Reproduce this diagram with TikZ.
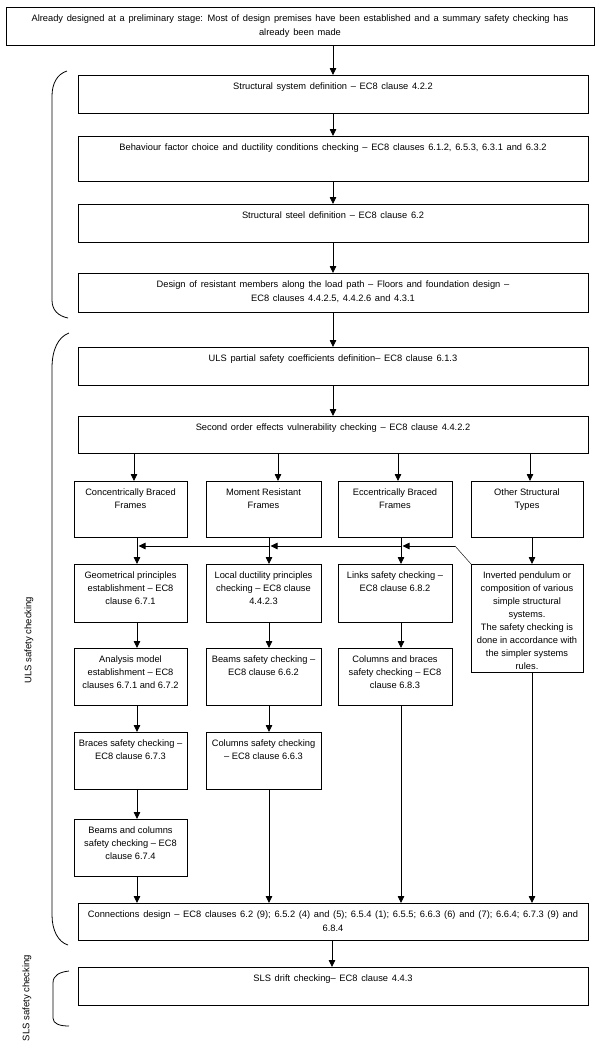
\documentclass[tikz,border=0pt]{standalone}
\usepackage{fontspec}
\setmainfont{Liberation Sans}
\usetikzlibrary{arrows.meta}
\newcommand{\widesp}{\spaceskip=3.7pt plus 1pt minus 0.5pt\relax}
\tikzset{
  box/.style={draw, line width=0.8pt, inner sep=0pt, outer sep=0pt},
  txt/.style={anchor=north, yshift=-5.5pt, inner sep=2pt, align=center, font=\fontsize{9.3}{13}\selectfont},
  wtxt/.style={anchor=north, yshift=-5.5pt, inner sep=2pt, align=center, font=\fontsize{9.3}{13.6}\selectfont, execute at begin node=\widesp},
  arr/.style={line width=0.8pt, -{Triangle[length=7pt,width=6.5pt]}},
  thinln/.style={line width=0.45pt},
  brc/.style={line width=0.8pt},
  side/.style={rotate=90, inner sep=0pt, font=\fontsize{9.5}{11}\selectfont}
}
\newcommand{\bx}[7][txt]{%
  \node[box, minimum width={#5-#3}, minimum height={#6-#4}] (#2) at ({(#3+#5)/2},{(#4+#6)/2}) {};
  \node[#1] at (#2.north) {#7};
}
\begin{document}
\begin{tikzpicture}[x=1pt,y=-1pt]
\useasboundingbox (0,0) rectangle (605,1045);

% main chain
\bx[wtxt]{top}{6}{7}{594}{45}{Already designed at a preliminary stage: Most of design premises have been established and a summary safety checking has\\already been made}
\bx[wtxt]{b1}{78}{75}{588}{113}{Structural system definition – EC8 clause 4.2.2}
\bx[wtxt]{b2}{78}{136}{588}{181}{Behaviour factor choice and ductility conditions checking – EC8 clauses 6.1.2, 6.5.3, 6.3.1 and 6.3.2}
\bx[wtxt]{b3}{78}{204}{588}{242}{Structural steel definition – EC8 clause 6.2}
\bx[wtxt]{b4}{78}{273}{588}{312}{Design of resistant members along the load path – Floors and foundation design –\\EC8 clauses 4.4.2.5, 4.4.2.6 and 4.3.1}
\bx[wtxt]{b5}{78}{347}{588}{385}{ULS partial safety coefficients definition– EC8 clause 6.1.3}
\bx[wtxt]{b6}{78}{416}{588}{453}{Second order effects vulnerability checking – EC8 clause 4.4.2.2}

% column headers
\bx{c1}{74}{481}{187}{537}{Concentrically Braced\\Frames}
\bx{c2}{206}{481}{321}{537}{Moment Resistant\\Frames}
\bx{c3}{338}{481}{452}{537}{Eccentrically Braced\\Frames}
\bx{c4}{471}{481}{583}{537}{Other Structural\\Types}

% row 2
\bx{r2a}{74}{564}{187}{622}{Geometrical principles\\establishment – EC8\\clause 6.7.1}
\bx{r2b}{206}{564}{321}{622}{Local ductility principles\\checking – EC8 clause\\4.4.2.3}
\bx{r2c}{338}{564}{452}{622}{Links safety checking –\\EC8 clause 6.8.2}
\bx{r2d}{471}{564}{583}{672}{Inverted pendulum or\\composition of various\\simple structural\\systems.\\The safety checking is\\done in accordance with\\the simpler systems\\rules.}

% row 3
\bx{r3a}{74}{648}{187}{705}{Analysis model\\establishment – EC8\\clauses 6.7.1 and 6.7.2}
\bx{r3b}{206}{648}{321}{705}{Beams safety checking –\\EC8 clause 6.6.2}
\bx{r3c}{338}{648}{452}{705}{Columns and braces\\safety checking – EC8\\clause 6.8.3}

% row 4
\bx{r4a}{74}{732}{187}{789}{Braces safety checking –\\EC8 clause 6.7.3}
\bx{r4b}{206}{732}{321}{789}{Columns safety checking\\– EC8 clause 6.6.3}

% row 5
\bx{r5a}{74}{819}{187}{876}{Beams and columns\\safety checking – EC8\\clause 6.7.4}

% bottom
\bx[wtxt]{conn}{78}{903}{588}{940}{Connections design – EC8 clauses 6.2 (9); 6.5.2 (4) and (5); 6.5.4 (1); 6.5.5; 6.6.3 (6) and (7); 6.6.4; 6.7.3 (9) and\\6.8.4}
\bx[wtxt]{sls}{78}{967}{588}{1005}{SLS drift checking– EC8 clause 4.4.3}

% column x coordinates
\coordinate (xm) at (333,0);
\coordinate (xs) at (332,0);
\coordinate (t1) at (134,0);
\coordinate (t2) at (278,0);
\coordinate (t3) at (398,0);
\coordinate (t4) at (530,0);
\coordinate (xA) at (137,0);
\coordinate (xB) at (269,0);
\coordinate (xC) at (401,0);
\coordinate (xD) at (532,0);

% main chain arrows
\draw[arr] (top.south -| xm) -- (b1.north -| xm);
\draw[arr] (b1.south -| xm) -- (b2.north -| xm);
\draw[arr] (b2.south -| xm) -- (b3.north -| xm);
\draw[arr] (b3.south -| xm) -- (b4.north -| xm);
\draw[arr] (b4.south -| xm) -- (b5.north -| xm);
\draw[arr] (b5.south -| xm) -- (b6.north -| xm);

% to columns
\draw[arr] (b6.south -| t1) -- (c1.north -| t1);
\draw[arr] (b6.south -| t2) -- (c2.north -| t2);
\draw[arr] (b6.south -| t3) -- (c3.north -| t3);
\draw[arr] (b6.south -| t4) -- (c4.north -| t4);

% CBF column
\draw[arr] (c1.south -| xA) -- (r2a.north -| xA);
\draw[arr] (r2a.south -| xA) -- (r3a.north -| xA);
\draw[arr] (r3a.south -| xA) -- (r4a.north -| xA);
\draw[arr] (r4a.south -| xA) -- (r5a.north -| xA);
\draw[arr] (r5a.south -| xA) -- (conn.north -| xA);
% MRF column
\draw[arr] (c2.south -| xB) -- (r2b.north -| xB);
\draw[arr] (r2b.south -| xB) -- (r3b.north -| xB);
\draw[arr] (r3b.south -| xB) -- (r4b.north -| xB);
\draw[arr] (r4b.south -| xB) -- (conn.north -| xB);
% EBF column
\draw[arr] (c3.south -| xC) -- (r2c.north -| xC);
\draw[arr] (r2c.south -| xC) -- (r3c.north -| xC);
\draw[arr] (r3c.south -| xC) -- (conn.north -| xC);
% Other column
\draw[arr] (c4.south -| xD) -- (r2d.north -| xD);
\draw[arr] (r2d.south -| xD) -- (conn.north -| xD);

% feedback line
\coordinate (fb) at (455,546);
\coordinate (fA) at (138.5,546);
\coordinate (fB) at (270.5,546);
\coordinate (fC) at (402.5,546);
\draw[thinln] (r2d.north west) -- (fb);
\draw[arr] (fb) -- (fC);
\draw[arr] (fC -| xC) -- (fB);
\draw[arr] (fB -| xB) -- (fA);

% to SLS
\draw[arr] (conn.south -| xs) -- (sls.north -| xs);

% braces
\draw[brc] (67,71) .. controls (57,74) and (52,84) .. (52,96) -- (52,300) .. controls (52,310) and (58,316) .. (68,318);
\draw[brc] (69,333) .. controls (58,337) and (52,350) .. (52,368) -- (52,915) .. controls (52,930) and (58,942) .. (68,945);
\draw[brc] (69,971) .. controls (60,972) and (53,975) .. (53,983) -- (53,1018) .. controls (53,1024) and (60,1026) .. (69,1026);

% side labels
\node[side] (ulsl) at (29,640) {ULS safety checking};
\node[side] (slsl) at (27,998) {SLS safety checking};
\end{tikzpicture}
\end{document}
